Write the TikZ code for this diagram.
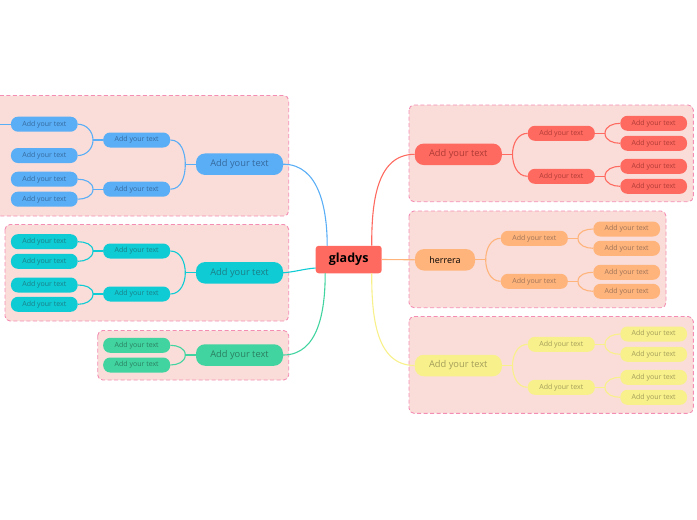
\documentclass[tikz,border=0pt]{standalone}
\usepackage{fontspec}
\setmainfont{Open Sans}
\begin{document}
\begin{tikzpicture}[x=1pt,y=-1pt,
  boxbg/.style={draw=pinkline, fill=boxfill, dashed, dash pattern=on 4pt off 2.5pt, line width=0.9pt, rounded corners=5pt},
  leaf/.style={rounded corners=7pt, minimum width=66.7pt, minimum height=15pt, inner sep=0pt, font=\fontsize{7}{8}\selectfont},
  mid/.style={leaf, minimum width=67pt},
  mainn/.style={rounded corners=9pt, minimum width=87pt, minimum height=21.5pt, inner sep=0pt, font=\fontsize{9.3}{11}\selectfont},
  blu/.style={fill=cblue, text=tblue},
  cya/.style={fill=ccyan, text=tcyan},
  gre/.style={fill=cgreen, text=tgreen},
  redn/.style={fill=cred, text=tred},
  ora/.style={fill=corange, text=torange},
  yel/.style={fill=cyellow, text=tyellow},
  lk/.style={line width=1.1pt}
]
\definecolor{pinkline}{HTML}{F48DB4}
\definecolor{boxfill}{HTML}{FADDD9}
\definecolor{cblue}{HTML}{5AAEF6}
\definecolor{tblue}{HTML}{356A9E}
\definecolor{ccyan}{HTML}{0ECBD4}
\definecolor{tcyan}{HTML}{1C7F88}
\definecolor{cgreen}{HTML}{41D4A0}
\definecolor{tgreen}{HTML}{2B7F60}
\definecolor{cred}{HTML}{FF6A60}
\definecolor{tred}{HTML}{AE3B36}
\definecolor{corange}{HTML}{FFB47C}
\definecolor{torange}{HTML}{9E7458}
\definecolor{cyellow}{HTML}{F8F08A}
\definecolor{tyellow}{HTML}{A39E5C}
\useasboundingbox (0,0) rectangle (697,520);
\clip (0,0) rectangle (697,520);

% background boxes
\draw[boxbg] (-10,95.5) rectangle (288.7,216);
\draw[boxbg] (5,224.5) rectangle (288.7,321);
\draw[boxbg] (97.7,330.5) rectangle (288.7,380);
\draw[boxbg] (409,105) rectangle (693.3,201.7);
\draw[boxbg] (409,211) rectangle (666,307.7);
\draw[boxbg] (409,316.5) rectangle (693.3,413.3);

% central
\node[fill=cred, rounded corners=3pt, minimum width=66pt, minimum height=27.5pt, inner sep=0pt, font=\fontsize{12.5}{14}\selectfont\bfseries] (g) at (348.7,259.5) {gladys};

% ---- blue branch
\node[mainn, blu] (b) at (239.5,164.2) {Add your text};
\node[mid, blu] (b1) at (136.7,140) {Add your text};
\node[mid, blu] (b2) at (136.7,189.2) {Add your text};
\node[leaf, blu] (b11) at (44.3,124.2) {Add your text};
\node[leaf, blu] (b12) at (44.3,155.5) {Add your text};
\node[leaf, blu] (b21) at (44.3,179.2) {Add your text};
\node[leaf, blu] (b22) at (44.3,199.2) {Add your text};
\coordinate (bout) at (0,124.2);

% ---- cyan branch
\node[mainn, cya] (c) at (239.5,272.8) {Add your text};
\node[mid, cya] (c1) at (136.7,251) {Add your text};
\node[mid, cya] (c2) at (136.7,294) {Add your text};
\node[leaf, cya] (c11) at (44.3,241.7) {Add your text};
\node[leaf, cya] (c12) at (44.3,261.3) {Add your text};
\node[leaf, cya] (c21) at (44.3,285) {Add your text};
\node[leaf, cya] (c22) at (44.3,304.3) {Add your text};

% ---- green branch
\node[mainn, gre] (n) at (239.5,355) {Add your text};
\node[mid, gre] (n1) at (136.7,345.3) {Add your text};
\node[mid, gre] (n2) at (136.7,365) {Add your text};

% ---- red branch
\node[mainn, redn] (r) at (458.3,154.3) {Add your text};
\node[mid, redn] (r1) at (561.3,133.3) {Add your text};
\node[mid, redn] (r2) at (561.3,176.3) {Add your text};
\node[leaf, redn] (r11) at (653.7,123.3) {Add your text};
\node[leaf, redn] (r12) at (653.7,143.3) {Add your text};
\node[leaf, redn] (r21) at (653.7,166.3) {Add your text};
\node[leaf, redn] (r22) at (653.7,186.3) {Add your text};

% ---- orange branch
\node[mainn, ora, minimum width=60pt, text=black, font=\fontsize{9}{11}\selectfont] (o) at (445,259.8) {herrera};
\node[mid, ora] (o1) at (534.3,238.3) {Add your text};
\node[mid, ora] (o2) at (534.3,281.3) {Add your text};
\node[leaf, ora] (o11) at (626.7,229) {Add your text};
\node[leaf, ora] (o12) at (626.7,248.3) {Add your text};
\node[leaf, ora] (o21) at (626.7,272.3) {Add your text};
\node[leaf, ora] (o22) at (626.7,291.3) {Add your text};

% ---- yellow branch
\node[mainn, yel] (y) at (458.3,365.5) {Add your text};
\node[mid, yel] (y1) at (561.3,344.3) {Add your text};
\node[mid, yel] (y2) at (561.3,387.3) {Add your text};
\node[leaf, yel] (y11) at (653.7,334) {Add your text};
\node[leaf, yel] (y12) at (653.7,354.3) {Add your text};
\node[leaf, yel] (y21) at (653.7,377.3) {Add your text};
\node[leaf, yel] (y22) at (653.7,397.3) {Add your text};

% ---- connectors from center
\draw[lk, cblue] (b.east) to[out=0, in=90] ([xshift=-21.5pt]g.north);
\draw[lk, ccyan] (c.east) to[out=5, in=185] ([yshift=-8.5pt]g.west);
\draw[lk, cgreen] (n.east) to[out=0, in=-90] ([xshift=-23.5pt]g.south);
\draw[lk, cred] ([xshift=23pt]g.north) to[out=90, in=180] (r.west);
\draw[lk, corange] (g.east) -- (o.west);
\draw[lk, cyellow] ([xshift=23pt]g.south) to[out=-90, in=180] (y.west);

% ---- left side sub-connectors
\draw[lk, cblue] (b.west) -- ++(-10.5,0) coordinate (bj);
\draw[lk, cblue] (bj) to[out=90, in=0] (b1.east);
\draw[lk, cblue] (bj) to[out=-90, in=0] (b2.east);
\draw[lk, cblue] (b1.west) -- ++(-10,0) coordinate (b1j);
\draw[lk, cblue] (b1j) to[out=90, in=0] (b11.east);
\draw[lk, cblue] (b1j) to[out=-90, in=0] (b12.east);
\draw[lk, cblue] (b2.west) -- ++(-10,0) coordinate (b2j);
\draw[lk, cblue] (b2j) to[out=90, in=0] (b21.east);
\draw[lk, cblue] (b2j) to[out=-90, in=0] (b22.east);
\draw[lk, cblue] (b11.west) -- (bout);

\draw[lk, ccyan] (c.west) -- ++(-10.5,0) coordinate (cj);
\draw[lk, ccyan] (cj) to[out=90, in=0] (c1.east);
\draw[lk, ccyan] (cj) to[out=-90, in=0] (c2.east);
\draw[lk, ccyan] (c1.west) -- ++(-10,0) coordinate (c1j);
\draw[lk, ccyan] (c1j) to[out=90, in=0] (c11.east);
\draw[lk, ccyan] (c1j) to[out=-90, in=0] (c12.east);
\draw[lk, ccyan] (c2.west) -- ++(-10,0) coordinate (c2j);
\draw[lk, ccyan] (c2j) to[out=90, in=0] (c21.east);
\draw[lk, ccyan] (c2j) to[out=-90, in=0] (c22.east);

\draw[lk, cgreen] (n.west) -- ++(-10.5,0) coordinate (nj);
\draw[lk, cgreen] (nj) to[out=90, in=0] (n1.east);
\draw[lk, cgreen] (nj) to[out=-90, in=0] (n2.east);

% ---- right side sub-connectors
\draw[lk, cred] (r.east) -- ++(10.5,0) coordinate (rj);
\draw[lk, cred] (rj) to[out=90, in=180] (r1.west);
\draw[lk, cred] (rj) to[out=-90, in=180] (r2.west);
\draw[lk, cred] (r1.east) -- ++(10,0) coordinate (r1j);
\draw[lk, cred] (r1j) to[out=90, in=180] (r11.west);
\draw[lk, cred] (r1j) to[out=-90, in=180] (r12.west);
\draw[lk, cred] (r2.east) -- ++(10,0) coordinate (r2j);
\draw[lk, cred] (r2j) to[out=90, in=180] (r21.west);
\draw[lk, cred] (r2j) to[out=-90, in=180] (r22.west);

\draw[lk, corange] (o.east) -- ++(10.5,0) coordinate (oj);
\draw[lk, corange] (oj) to[out=90, in=180] (o1.west);
\draw[lk, corange] (oj) to[out=-90, in=180] (o2.west);
\draw[lk, corange] (o1.east) -- ++(10,0) coordinate (o1j);
\draw[lk, corange] (o1j) to[out=90, in=180] (o11.west);
\draw[lk, corange] (o1j) to[out=-90, in=180] (o12.west);
\draw[lk, corange] (o2.east) -- ++(10,0) coordinate (o2j);
\draw[lk, corange] (o2j) to[out=90, in=180] (o21.west);
\draw[lk, corange] (o2j) to[out=-90, in=180] (o22.west);

\draw[lk, cyellow] (y.east) -- ++(10.5,0) coordinate (yj);
\draw[lk, cyellow] (yj) to[out=90, in=180] (y1.west);
\draw[lk, cyellow] (yj) to[out=-90, in=180] (y2.west);
\draw[lk, cyellow] (y1.east) -- ++(10,0) coordinate (y1j);
\draw[lk, cyellow] (y1j) to[out=90, in=180] (y11.west);
\draw[lk, cyellow] (y1j) to[out=-90, in=180] (y12.west);
\draw[lk, cyellow] (y2.east) -- ++(10,0) coordinate (y2j);
\draw[lk, cyellow] (y2j) to[out=90, in=180] (y21.west);
\draw[lk, cyellow] (y2j) to[out=-90, in=180] (y22.west);
\end{tikzpicture}
\end{document}
